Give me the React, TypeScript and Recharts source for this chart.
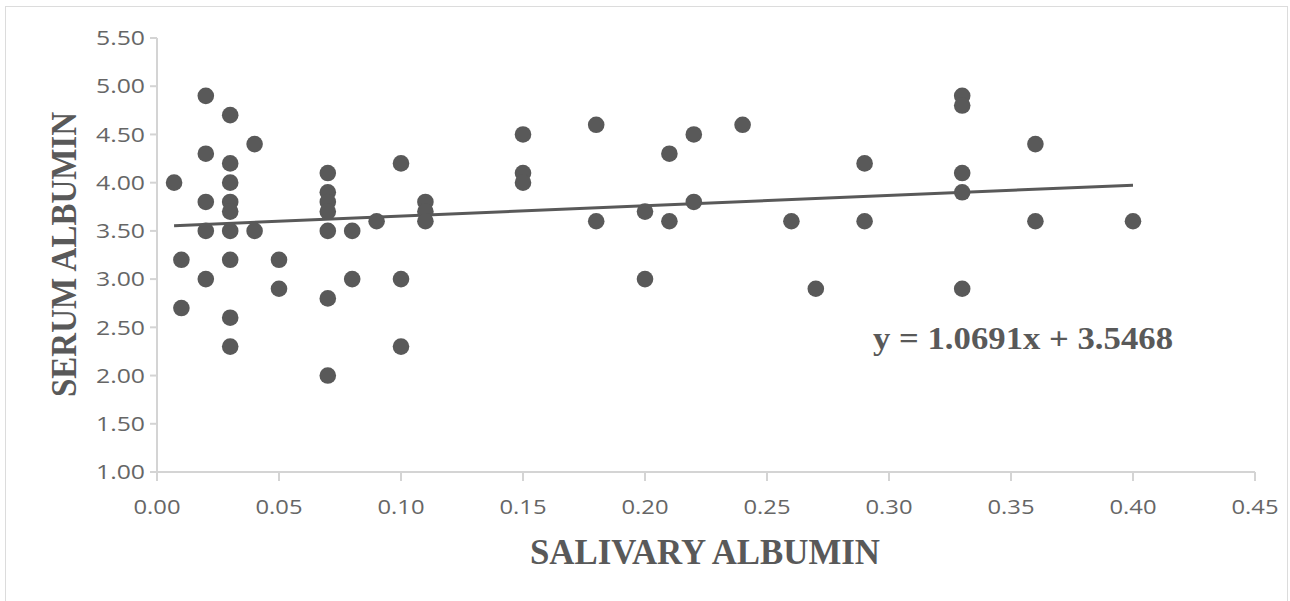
import React from 'react';
import { ScatterChart, Scatter, XAxis, YAxis, ReferenceLine } from 'recharts';

const salivary = [
  0.007,
  0.01, 0.01,
  0.02, 0.02, 0.02, 0.02, 0.02,
  0.03, 0.03, 0.03, 0.03, 0.03, 0.03, 0.03, 0.03, 0.03,
  0.04, 0.04,
  0.05, 0.05,
  0.07, 0.07, 0.07, 0.07, 0.07, 0.07, 0.07,
  0.08, 0.08,
  0.09,
  0.10, 0.10, 0.10,
  0.11, 0.11, 0.11,
  0.15, 0.15, 0.15,
  0.18, 0.18,
  0.20, 0.20,
  0.21, 0.21,
  0.22, 0.22,
  0.24,
  0.26,
  0.27,
  0.29, 0.29,
  0.33, 0.33, 0.33, 0.33, 0.33,
  0.36, 0.36,
  0.40,
];

const serum = [
  4.0,
  3.2, 2.7,
  4.9, 4.3, 3.8, 3.5, 3.0,
  4.7, 4.2, 4.0, 3.8, 3.7, 3.5, 3.2, 2.6, 2.3,
  4.4, 3.5,
  3.2, 2.9,
  4.1, 3.9, 3.8, 3.7, 3.5, 2.8, 2.0,
  3.5, 3.0,
  3.6,
  4.2, 3.0, 2.3,
  3.8, 3.7, 3.6,
  4.5, 4.1, 4.0,
  4.6, 3.6,
  3.7, 3.0,
  4.3, 3.6,
  4.5, 3.8,
  4.6,
  3.6,
  2.9,
  4.2, 3.6,
  4.9, 4.8, 4.1, 3.9, 2.9,
  4.4, 3.6,
  3.6,
];

const xTicks = [0, 0.05, 0.1, 0.15, 0.2, 0.25, 0.3, 0.35, 0.4, 0.45];
const yTicks = [1, 1.5, 2, 2.5, 3, 3.5, 4, 4.5, 5, 5.5];

const slope = 1.0691;
const intercept = 3.5468;
const equationText = 'y = 1.0691x + 3.5468';
const xTitle = 'SALIVARY ALBUMIN';
const yTitle = 'SERUM ALBUMIN';

const points = salivary.map((x, i) => ({ x, y: serum[i] }));
const xMin = Math.min(...salivary);
const xMax = Math.max(...salivary);

const GREY = '#595959';
const TICKTXT = '#666666';
const AXIS = '#d4d4d4';

const YTick = (props: any) => {
  const { x, y, payload } = props;
  return (
    <text x={x} y={y} dy="0.36em" textAnchor="end" fontFamily="Open Sans" fontSize={20}
      fill={TICKTXT} textLength={49} lengthAdjust="spacingAndGlyphs">
      {Number(payload.value).toFixed(2)}
    </text>
  );
};

const XTick = (props: any) => {
  const { x, y, payload } = props;
  return (
    <text x={x} y={y} dy="0.71em" textAnchor="middle" fontFamily="Open Sans" fontSize={20}
      fill={TICKTXT} textLength={47} lengthAdjust="spacingAndGlyphs">
      {Number(payload.value).toFixed(2)}
    </text>
  );
};

const Dot = (props: any) => {
  const { cx, cy } = props;
  if (cx == null || cy == null) return null;
  return <circle cx={cx} cy={cy} r={8.3} fill={GREY} />;
};

export default function App() {
  return (
    <div style={{ position: 'absolute', left: 0, top: 0, width: 1290, height: 601, background: '#fff', overflow: 'hidden' }}>
      <div style={{ position: 'absolute', left: 5, top: 6, width: 1283, height: 600, border: '1px solid #dcdcdc', borderBottom: 'none', boxSizing: 'border-box' }} />
      <div style={{ position: 'absolute', left: 0, top: 0 }}>
        <ScatterChart width={1290} height={601} margin={{ top: 38, right: 35, bottom: 0, left: 0 }}>
          <XAxis type="number" dataKey="x" domain={[0, 0.45]} ticks={xTicks} height={129}
            axisLine={{ stroke: AXIS, strokeWidth: 2 }} tickLine={{ stroke: AXIS, strokeWidth: 2 }}
            tickSize={9} tickMargin={19} tick={<XTick />} interval={0} allowDataOverflow />
          <YAxis type="number" dataKey="y" domain={[1, 5.5]} ticks={yTicks} width={157}
            axisLine={{ stroke: AXIS, strokeWidth: 2 }} tickLine={{ stroke: AXIS, strokeWidth: 2 }}
            tickSize={7} tickMargin={5} tick={<YTick />} interval={0} allowDataOverflow />
          <ReferenceLine
            segment={[{ x: xMin, y: slope * xMin + intercept }, { x: xMax, y: slope * xMax + intercept }]}
            stroke={GREY} strokeWidth={3} ifOverflow="visible" />
          <Scatter data={points} shape={<Dot />} isAnimationActive={false} />
        </ScatterChart>
      </div>
      <svg width={1290} height={601} style={{ position: 'absolute', left: 0, top: 0, pointerEvents: 'none' }}>
        <text x={873} y={349} fontFamily="Liberation Serif" fontWeight="bold" fontSize={32} fill={GREY}
          textLength={300} lengthAdjust="spacingAndGlyphs">{equationText}</text>
        <text x={530} y={564} fontFamily="Liberation Serif" fontWeight="bold" fontSize={35} fill={GREY}
          textLength={350} lengthAdjust="spacingAndGlyphs">{xTitle}</text>
        <text x={0} y={0} transform="translate(76,397) rotate(-90)" fontFamily="Liberation Serif" fontWeight="bold"
          fontSize={35} fill={GREY} textLength={285} lengthAdjust="spacingAndGlyphs">{yTitle}</text>
      </svg>
    </div>
  );
}
